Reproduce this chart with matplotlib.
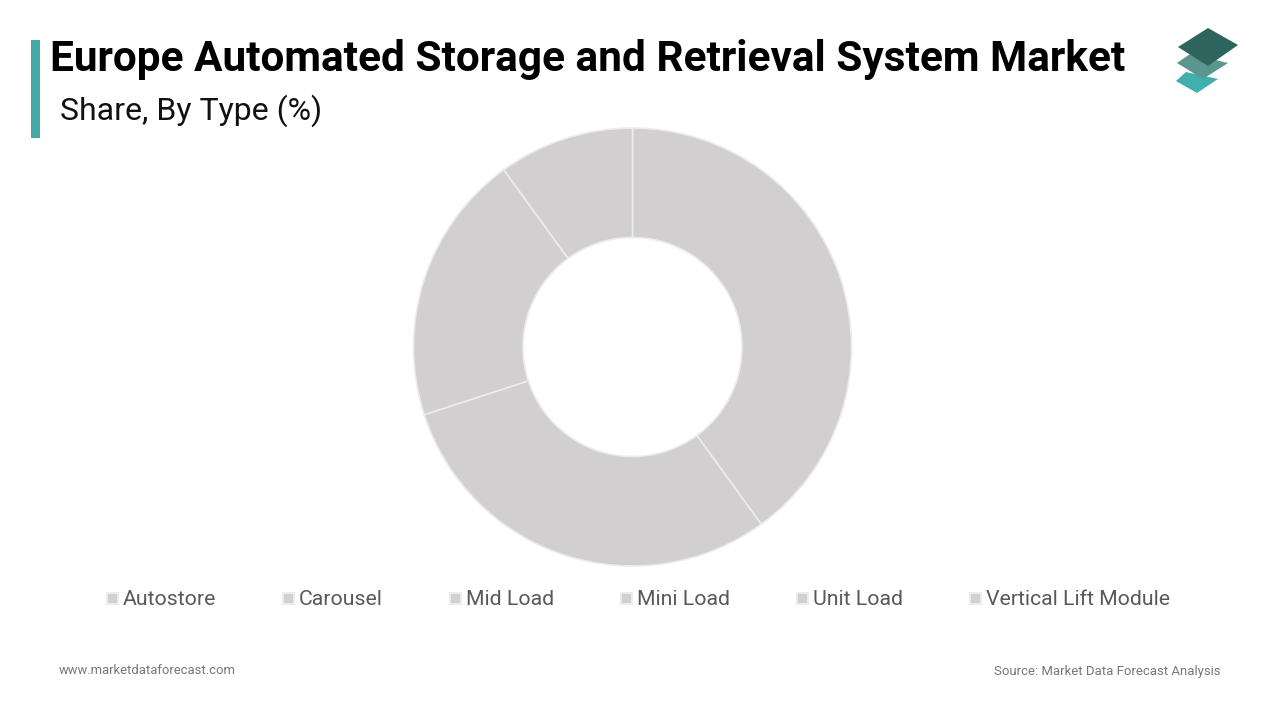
import matplotlib
matplotlib.use("Agg")
import matplotlib.pyplot as plt
from matplotlib.patches import Polygon, Rectangle

plt.rcParams['font.family'] = ['Roboto', 'DejaVu Sans']

title = "Europe Automated Storage and Retrieval System Market"
subtitle = "Share, By Type (%)"
shares = [40, 30, 20, 10]
legend_labels = ["Autostore", "Carousel", "Mid Load", "Mini Load", "Unit Load", "Vertical Lift Module"]
legend_x = [106, 282, 449, 620, 796, 969]

grey = "#d1cfcf"
text_grey = "#595959"

fig = plt.figure(figsize=(12.8, 7.2), dpi=100)

# overlay in pixel coords for the page furniture
bg = fig.add_axes([0, 0, 1, 1])
bg.set_xlim(0, 1280)
bg.set_ylim(720, 0)
bg.axis("off")

bg.add_patch(Rectangle((31, 40), 9, 98, color="#45aaa8", lw=0))
bg.text(50, 59, title, fontsize=30.53, fontweight="bold", color="black", va="center", ha="left")
bg.text(60, 111, subtitle, fontsize=23.05, color="#111111", va="center", ha="left")

# logo, three stacked plates
bg.add_patch(Polygon([(1176, 81), (1186, 72), (1218, 79), (1197, 93)], color="#3fb0ad", lw=0))
bg.add_patch(Polygon([(1177, 63), (1190, 54), (1228, 63), (1203, 79)], color="#5b9690", lw=0))
bg.add_patch(Polygon([(1178, 47), (1208, 28), (1238, 45), (1208, 66)], color="#2e645e", lw=0))

# legend
for x, name in zip(legend_x, legend_labels):
    bg.add_patch(Rectangle((x, 592), 13, 13, color="#ececec", lw=0))
    bg.add_patch(Rectangle((x + 2, 594), 9, 9, color="#d0d0d0", lw=0))
    bg.text(x + 17, 599.5, name, fontsize=15.35, color=text_grey, va="center", ha="left")

bg.text(59, 671, "www.marketdataforecast.com", fontsize=9.35, color="#777777", va="center", ha="left")
bg.text(1221, 671, "Source: Market Data Forecast Analysis", fontsize=9.45, color="#777777", va="center", ha="right")

# donut
ax = fig.add_axes([(632.5 - 220) / 1280, (720 - 347 - 220) / 720, 440 / 1280, 440 / 720])
ax.pie(shares, startangle=90, counterclock=False, radius=219 / 220, colors=[grey] * len(shares),
       wedgeprops=dict(width=109.5 / 220, edgecolor="#ececec", linewidth=1.2))
ax.set_xlim(-1, 1)
ax.set_ylim(-1, 1)
ax.patch.set_alpha(0)

fig.savefig("out.png", dpi=100)
